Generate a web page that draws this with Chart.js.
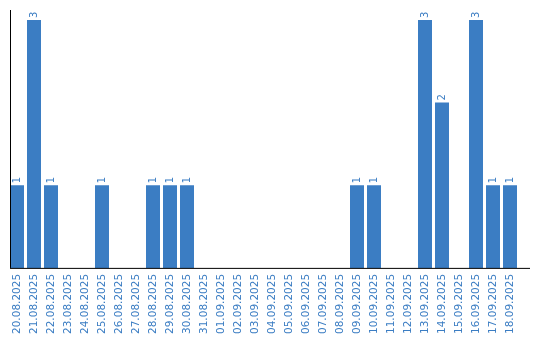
<!DOCTYPE html>
<html>
<head>
<meta charset="utf-8">
<script src="https://cdn.jsdelivr.net/npm/chart.js@4"></script>
<style>
  html, body { margin: 0; padding: 0; background: #fff; }
  #wrap { width: 540px; height: 340px; }
</style>
</head>
<body>
<div id="wrap"><canvas id="grafico" width="540" height="340"></canvas></div>
<script>
const fechas = [
  "20.08.2025", "21.08.2025", "22.08.2025", "23.08.2025", "24.08.2025",
  "25.08.2025", "26.08.2025", "27.08.2025", "28.08.2025", "29.08.2025",
  "30.08.2025", "31.08.2025", "01.09.2025", "02.09.2025", "03.09.2025",
  "04.09.2025", "05.09.2025", "06.09.2025", "07.09.2025", "08.09.2025",
  "09.09.2025", "10.09.2025", "11.09.2025", "12.09.2025", "13.09.2025",
  "14.09.2025", "15.09.2025", "16.09.2025", "17.09.2025", "18.09.2025"
];
const cantidades = [
  1, 3, 1, 0, 0, 1, 0, 0, 1, 1,
  1, 0, 0, 0, 0, 0, 0, 0, 0, 0,
  1, 1, 0, 0, 3, 2, 0, 3, 1, 1
];

const azul = "#3b7dc3";

// etiquetas de valor giradas encima de cada barra
const etiquetasValor = {
  id: "etiquetasValor",
  afterDatasetsDraw(chart) {
    const ctx = chart.ctx;
    const meta = chart.getDatasetMeta(0);
    ctx.save();
    ctx.fillStyle = azul;
    ctx.font = "10px 'DejaVu Sans', Verdana, sans-serif";
    ctx.textAlign = "left";
    ctx.textBaseline = "middle";
    meta.data.forEach((bar, i) => {
      const v = cantidades[i];
      if (!v) return;
      ctx.save();
      ctx.translate(bar.x, bar.y - 2);
      ctx.rotate(-Math.PI / 2);
      ctx.fillText(String(v), 0, 0);
      ctx.restore();
    });
    ctx.restore();
  }
};

// lineas de ejes
const lineasEjes = {
  id: "lineasEjes",
  afterDraw(chart) {
    const ctx = chart.ctx;
    const a = chart.chartArea;
    ctx.save();
    ctx.strokeStyle = "#000";
    ctx.lineWidth = 1;
    ctx.beginPath();
    ctx.moveTo(10.5, a.top);
    ctx.lineTo(10.5, a.bottom);
    ctx.moveTo(10, a.bottom + 0.5);
    ctx.lineTo(530, a.bottom + 0.5);
    ctx.stroke();
    ctx.restore();
  }
};

new Chart(document.getElementById("grafico"), {
  type: "bar",
  data: {
    labels: fechas,
    datasets: [{
      data: cantidades,
      backgroundColor: azul,
      borderWidth: 0,
      barPercentage: 1,
      categoryPercentage: 14 / 17
    }]
  },
  options: {
    responsive: false,
    animation: false,
    layout: { padding: { left: 8.5, right: 21.5, top: 10, bottom: 0 } },
    plugins: { legend: { display: false }, tooltip: { enabled: false } },
    scales: {
      x: {
        grid: { display: false, drawTicks: false },
        border: { display: false },
        ticks: {
          color: azul,
          font: { family: "'DejaVu Sans', Verdana, sans-serif", size: 10.5 },
          minRotation: 90,
          maxRotation: 90,
          autoSkip: false,
          padding: 6
        }
      },
      y: {
        display: false,
        min: 0,
        max: 3.12
      }
    }
  },
  plugins: [etiquetasValor, lineasEjes]
});
</script>
</body>
</html>
